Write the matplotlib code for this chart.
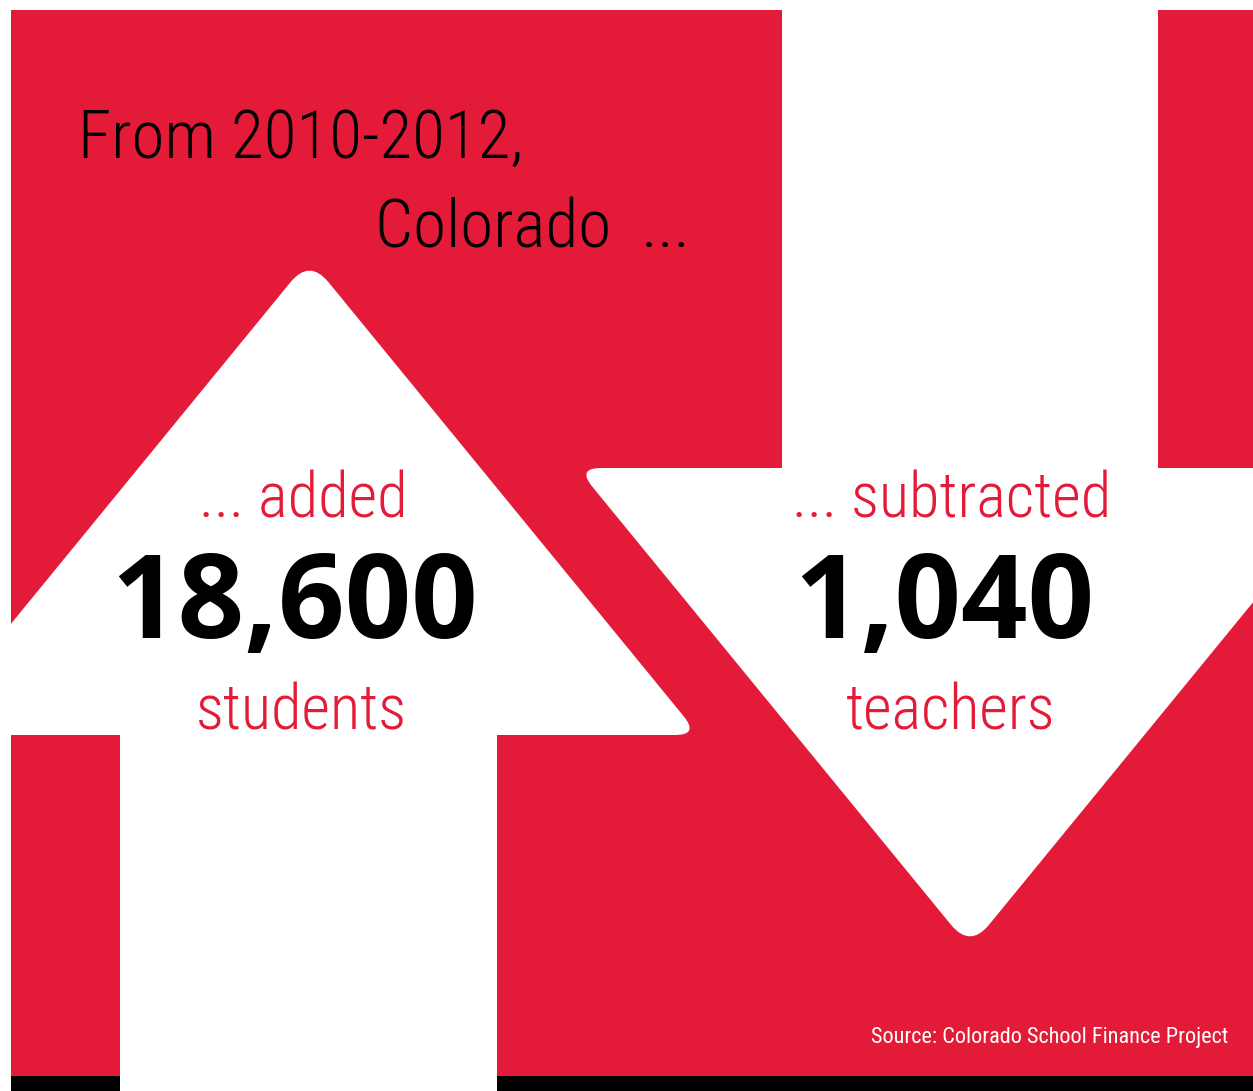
import numpy as np
import matplotlib
matplotlib.use("Agg")
import matplotlib.pyplot as plt
from matplotlib.path import Path
from matplotlib.patches import PathPatch, Rectangle
from matplotlib import font_manager

# numbers and labels shown on the infographic
headline = ["From 2010-2012,", "Colorado  ..."]
up_label = ["... added", "18,600", "students"]
down_label = ["... subtracted", "1,040", "teachers"]
source = "Source: Colorado School Finance Project"

RED = "#E31A38"

installed = set(f.name for f in font_manager.fontManager.ttflist)

def pick(*names):
	for n in names:
		if n in installed:
			return n
	return "DejaVu Sans"

narrow = pick("Roboto Condensed", "Liberation Sans Narrow", "DejaVu Sans Condensed", "Open Sans")
boldf = pick("Open Sans", "Noto Sans", "DejaVu Sans")


def rounded(pts, radii):
	verts = []
	codes = []
	n = len(pts)
	for i in range(n):
		p = np.array(pts[i], float)
		r = radii[i]
		if r == 0:
			verts.append(p)
			codes.append(Path.MOVETO if i == 0 else Path.LINETO)
			continue
		a = np.array(pts[i - 1], float)
		b = np.array(pts[(i + 1) % n], float)
		pa = p + (a - p) / np.linalg.norm(a - p) * r
		pb = p + (b - p) / np.linalg.norm(b - p) * r
		verts += [pa, p, pb]
		codes += [Path.MOVETO if i == 0 else Path.LINETO, Path.CURVE3, Path.CURVE3]
	verts.append(verts[0])
	codes.append(Path.CLOSEPOLY)
	return Path(verts, codes)


fig = plt.figure(figsize=(12.53, 10.91), dpi=100)
ax = fig.add_axes([0, 0, 1, 1])
ax.set_xlim(0, 1253)
ax.set_ylim(1091, 0)
ax.axis("off")

ax.add_patch(Rectangle((11, 10), 1242, 1066, color=RED, lw=0))
ax.add_patch(Rectangle((11, 1076), 1242, 15, color="black", lw=0))

# up arrow (students)
up = [(120, 1100), (120, 735), (-80, 735), (309.5, 259), (699, 735), (497, 735), (497, 1100)]
ax.add_patch(PathPatch(rounded(up, [0, 0, 0, 30, 24, 0, 0]), fc="white", lw=0))

# down arrow (teachers)
down = [(782, -10), (782, 468), (577, 468), (970, 948), (1363, 468), (1158, 468), (1158, -10)]
ax.add_patch(PathPatch(rounded(down, [0, 0, 24, 30, 0, 0, 0]), fc="white", lw=0))

ax.text(78, 158, headline[0], fontsize=48.5, family=narrow, weight="light", color="black", va="baseline", ha="left")
ax.text(690, 248, headline[1], fontsize=48.5, family=narrow, weight="light", color="black", va="baseline", ha="right")

ax.text(303, 518, up_label[0], fontsize=45, family=narrow, weight="light", color=RED, va="baseline", ha="center")
ax.text(294, 638, up_label[1], fontsize=84, family=boldf, weight="bold", color="black", va="baseline", ha="center")
ax.text(301, 730, up_label[2], fontsize=45, family=narrow, weight="light", color=RED, va="baseline", ha="center")

ax.text(952, 518, down_label[0], fontsize=45, family=narrow, weight="light", color=RED, va="baseline", ha="center")
ax.text(944, 638, down_label[1], fontsize=84, family=boldf, weight="bold", color="black", va="baseline", ha="center")
ax.text(951, 730, down_label[2], fontsize=45, family=narrow, weight="light", color=RED, va="baseline", ha="center")

ax.text(1228, 1043, source, fontsize=16, family=narrow, color="white", va="baseline", ha="right")

fig.savefig("out.png", dpi=100, facecolor="white")
